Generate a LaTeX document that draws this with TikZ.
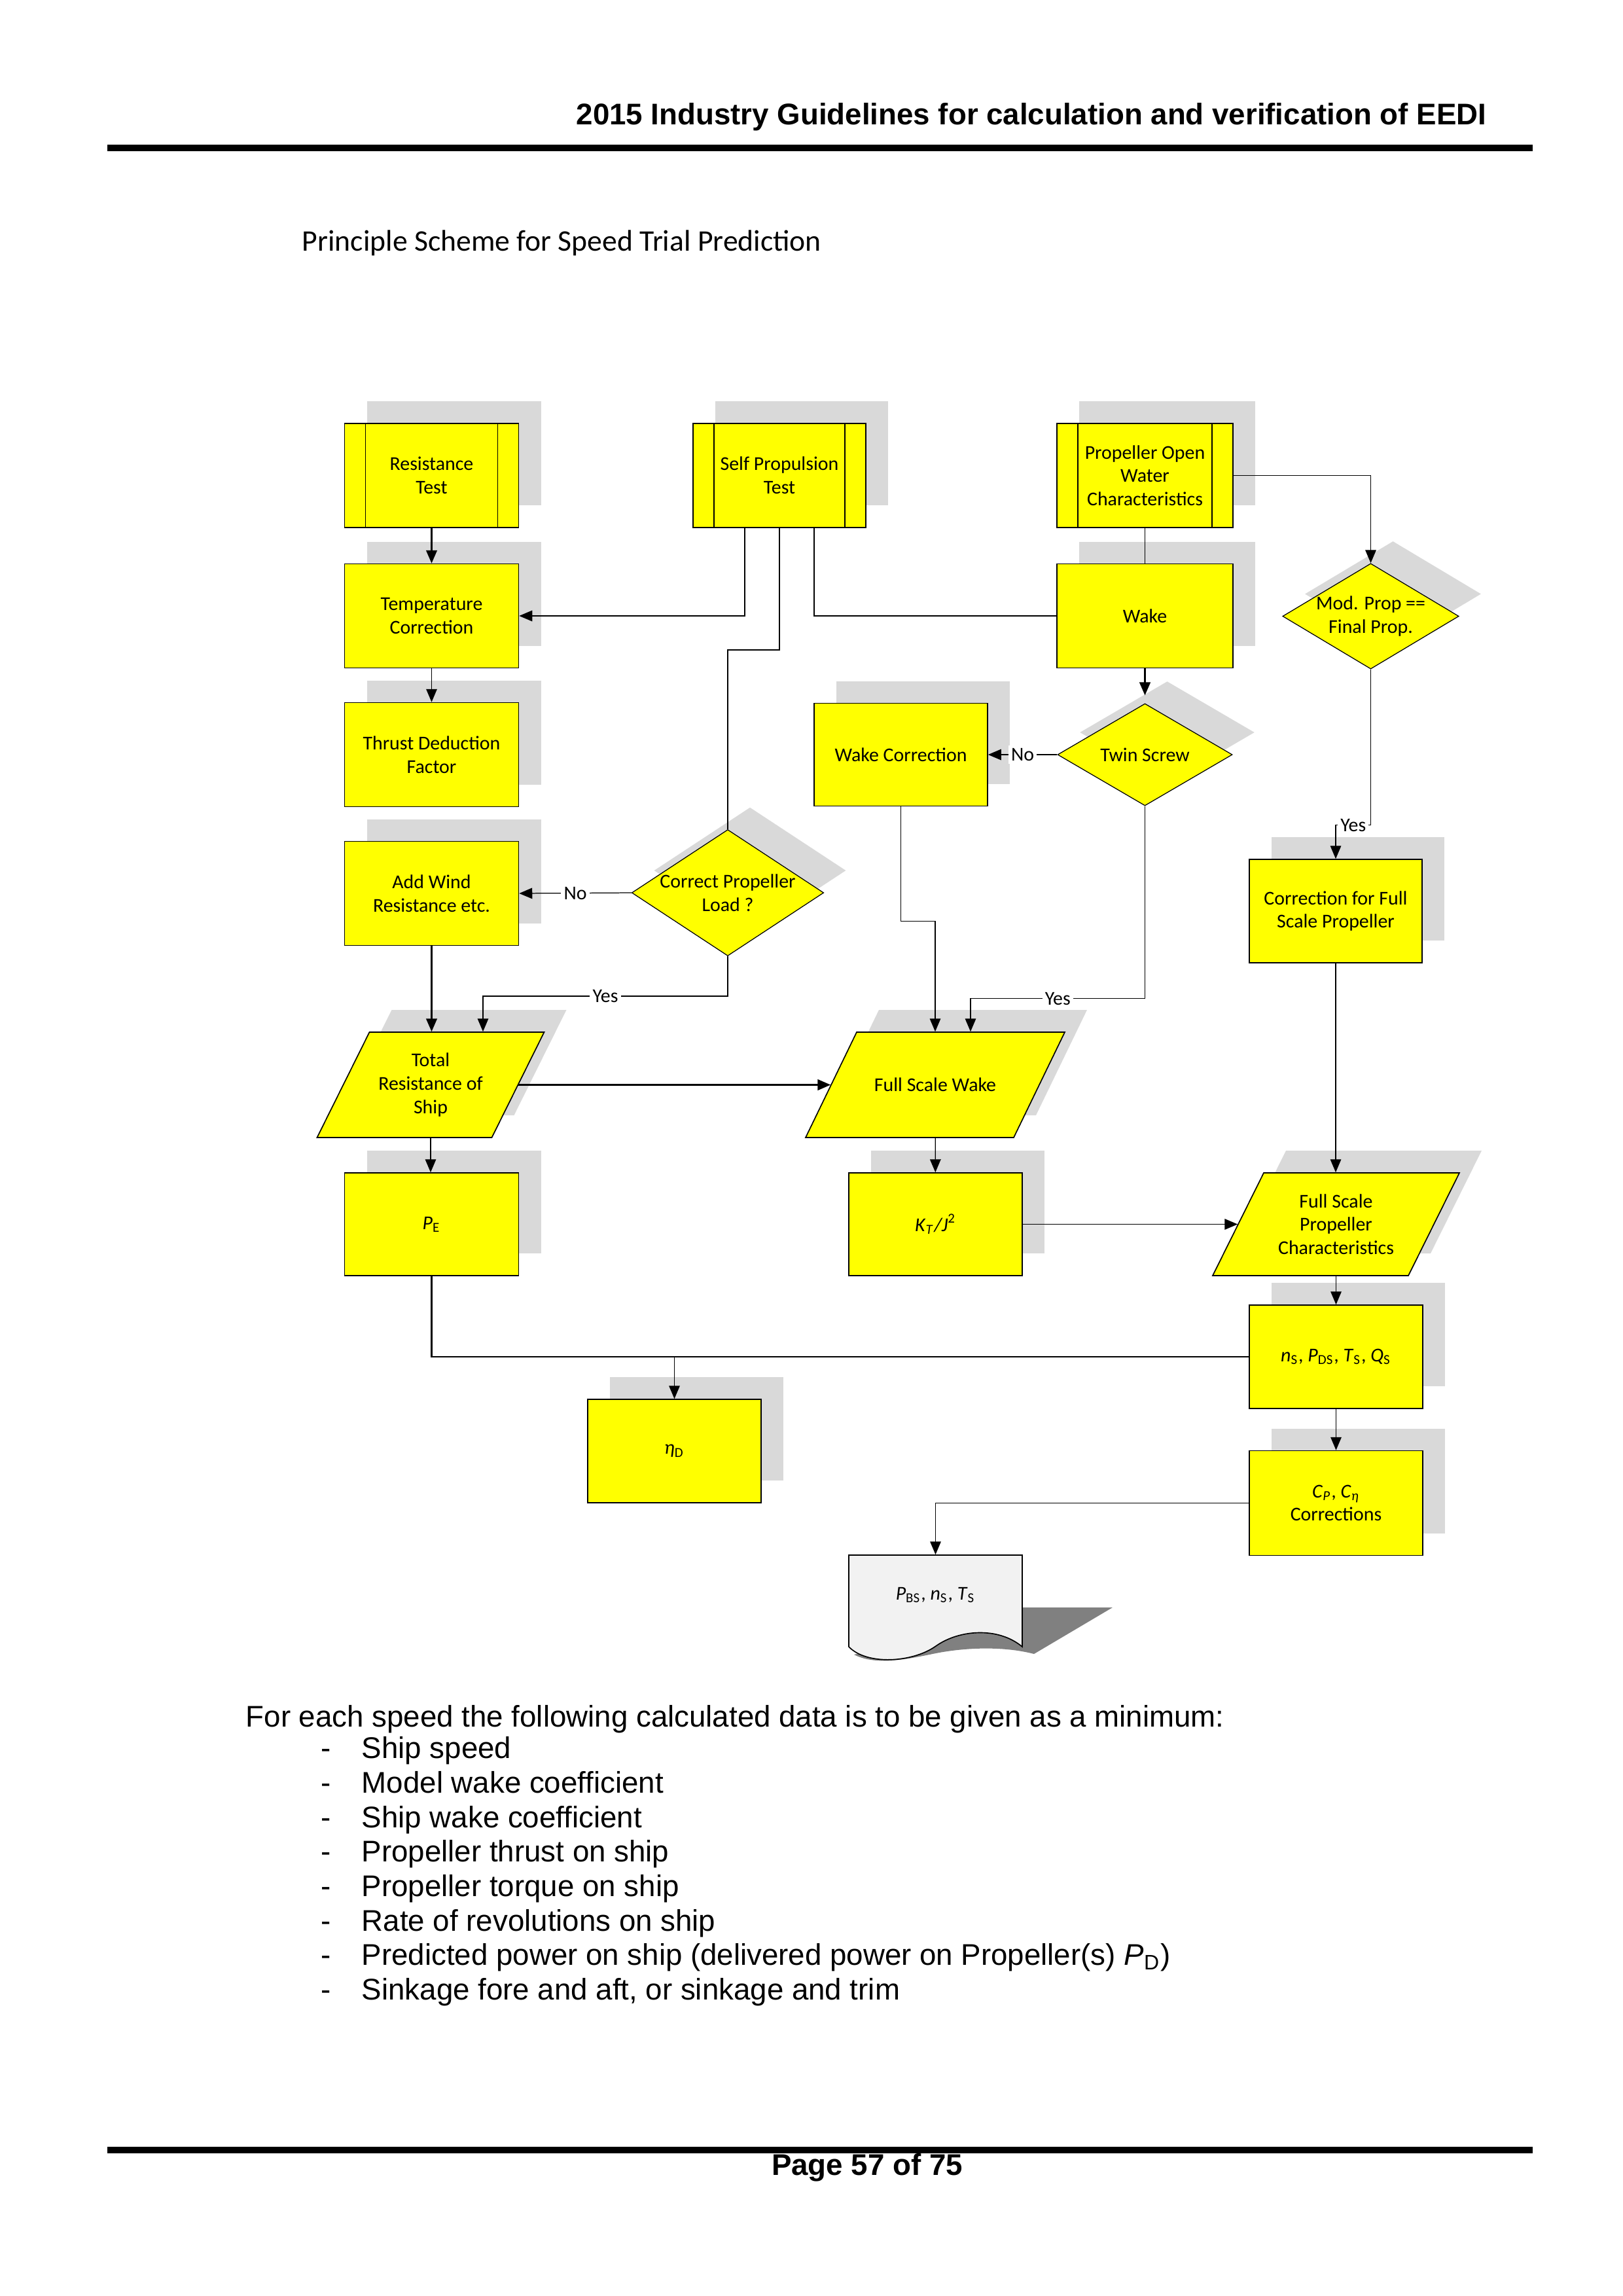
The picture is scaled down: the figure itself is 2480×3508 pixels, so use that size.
\documentclass[tikz,border=0pt]{standalone}
\usepackage{fontspec}
\setmainfont{Carlito}
\newfontfamily\arialfont{Liberation Sans}
\usepackage{tikz}
\usetikzlibrary{arrows.meta,shapes.geometric,shadows}
\definecolor{FlowYellow}{HTML}{FFFF00}
\definecolor{ShadeGrey}{HTML}{D9D9D9}
\definecolor{DocGrey}{HTML}{F2F2F2}
\definecolor{DocShade}{HTML}{808080}
\newlength\pix
\setlength\pix{0.084677mm}
\newcommand\flowfont{\fontsize{7.2}{8.6}\selectfont}
% parallelogram with its shadow: centre x, centre y, edge, height, slant
\newcommand\ioshape[5]{%
  \fill[ShadeGrey,xshift=34*\pix,yshift=34*\pix] ({#1-#3/2+#5/2},{#2-#4/2}) -- ++(#3,0) -- ++(-#5,#4) -- ++(-#3,0) -- cycle;
  \draw[line width=.4pt,fill=FlowYellow] ({#1-#3/2+#5/2},{#2-#4/2}) -- ++(#3,0) -- ++(-#5,#4) -- ++(-#3,0) -- cycle;}

\begin{document}
\begin{tikzpicture}[x=\pix,y=-\pix,
    greyshadow/.style={general shadow={shadow xshift=34*\pix,shadow yshift=34*\pix,fill=ShadeGrey}},
    flowbox/.style={draw,line width=.4pt,fill=FlowYellow,minimum width=266*\pix,minimum height=159*\pix,inner sep=1pt,align=center,font=\flowfont,greyshadow},
    predef/.style={flowbox,path picture={
      \draw[line width=.4pt] ([xshift=32*\pix]path picture bounding box.north west) -- ([xshift=32*\pix]path picture bounding box.south west)
        ([xshift=-32*\pix]path picture bounding box.north east) -- ([xshift=-32*\pix]path picture bounding box.south east);}},
    decision/.style={diamond,draw,line width=.3pt,fill=FlowYellow,inner sep=0pt,align=center,font=\flowfont,greyshadow},
    iobox/.style={inner sep=0pt,minimum height=161*\pix,align=center,font=\flowfont},
    lbl/.style={fill=white,inner sep=1pt,font=\flowfont},
    plain/.style={line width=.3pt},
    link/.style={line width=.3pt,-{Triangle[length=4.8pt,width=4pt]}},
    linkthick/.style={line width=.6pt,-{Triangle[length=4.8pt,width=4pt]}},
    listtext/.style={inner sep=0pt,font=\arialfont\fontsize{11}{12.65}\selectfont}]
  \useasboundingbox (0,0) rectangle (2480,3508);

  \node[anchor=base east,inner sep=0pt,font=\arialfont\bfseries\fontsize{11}{13}\selectfont] (header) at (2272,190) {2015 Industry Guidelines for calculation and verification of EEDI};
  \draw[line width=10*\pix] (164,225.7) -- (2342,225.7);
  \node[anchor=west,inner sep=0pt,font=\fontsize{11}{13}\selectfont] (title) at (461,371) {Principle Scheme for Speed Trial Prediction};

  \node[predef] (restest) at (659.5,726.5) {Resistance\\Test};
  \node[predef,minimum width=264*\pix] (sptest) at (1191,726.5) {Self Propulsion\\Test};
  \node[predef,minimum width=269*\pix] (powc) at (1749.5,726.5) {Propeller Open\\Water\\Characteristics};
  \node[flowbox] (tempcorr) at (659.5,941) {Temperature\\Correction};
  \node[flowbox,minimum width=269*\pix] (wake) at (1749.5,941) {Wake};
  \node[decision,minimum width=266*\pix,minimum height=159*\pix,aspect=1.67] (modprop) at (2094.5,941.5) {Mod. Prop ==\\Final Prop.};
  \node[flowbox] (thrust) at (659.5,1153) {Thrust Deduction\\Factor};
  \node[flowbox,minimum width=265*\pix,minimum height=157*\pix] (wakecorr) at (1376.5,1153) {Wake Correction};
  \node[decision,minimum width=267*\pix,minimum height=156*\pix,aspect=1.71] (twin) at (1749.5,1153) {Twin Screw};
  \node[flowbox] (addwind) at (659.5,1365) {Add Wind\\Resistance etc.};
  \node[decision,minimum width=287*\pix,minimum height=189*\pix,aspect=1.52] (corrload) at (1112,1364) {Correct Propeller\\Load ?};
  \node[flowbox,minimum width=264*\pix,minimum height=158*\pix] (corrfull) at (2041,1392) {Correction for Full\\Scale Propeller};
  \ioshape{658}{1657.5}{267}{161}{80}
  \node[iobox,minimum width=267*\pix] (totres) at (658,1657.5) {Total\\Resistance of\\Ship};
  \ioshape{1429}{1657.5}{318}{161}{78}
  \node[iobox,minimum width=318*\pix] (fswake) at (1429,1657.5) {Full Scale Wake};
  \node[flowbox,minimum height=157*\pix] (pe) at (659.5,1870.5) {\textit{P}\textsubscript{E}};
  \node[flowbox,minimum width=265*\pix,minimum height=157*\pix] (ktj) at (1429.5,1870.5) {\textit{K}\textsubscript{\textit{T}}\textit{/J}\textsuperscript{2}};
  \ioshape{2041.5}{1870.5}{299}{157}{78}
  \node[iobox,minimum width=299*\pix,minimum height=157*\pix] (fsprop) at (2041.5,1870.5) {Full Scale\\Propeller\\Characteristics};
  \node[flowbox,minimum width=265*\pix,minimum height=158*\pix] (nspds) at (2041.5,2073) {\textit{n}\textsubscript{S}, \textit{P}\textsubscript{DS}, \textit{T}\textsubscript{S}, \textit{Q}\textsubscript{S}};
  \node[flowbox,minimum width=265*\pix,minimum height=158*\pix] (etad) at (1030.5,2217) {\textit{η}\textsubscript{D}};
  \node[flowbox,minimum width=265*\pix,minimum height=160*\pix] (cpcorr) at (2041.5,2296.5) {\textit{C}\textsubscript{\textit{P}}, \textit{C}\textsubscript{\textit{η}}\\Corrections};

  \fill[DocShade] (1562,2456) -- (1700,2456) -- (1580,2527) .. controls (1530,2514) and (1470,2518) .. (1430,2526)
    .. controls (1390,2534) and (1340,2546) .. (1305,2528) -- cycle;
  \draw[line width=.4pt,fill=DocGrey] (1297,2376) -- (1562,2376) -- (1562,2516) .. controls (1525,2485) and (1465,2490) .. (1430,2515)
    .. controls (1395,2540) and (1325,2545) .. (1297,2516) -- cycle;
  \node[inner sep=0pt,minimum width=265*\pix,minimum height=122*\pix,font=\flowfont] (docout) at (1429.5,2437) {\textit{P}\textsubscript{BS}, \textit{n}\textsubscript{S}, \textit{T}\textsubscript{S}};

  \coordinate (spbend) at (1112,993);
  \draw[linkthick] (restest) -- (tempcorr);
  \draw[link] (tempcorr) -- (thrust);
  \draw[link] ([xshift=-53*\pix]sptest.south) |- (tempcorr.east);
  \draw[plain] (sptest.south) |- (spbend) -- (corrload.north);
  \draw[plain] ([xshift=53*\pix]sptest.south) |- (wake.west);
  \draw[plain] (powc) -- (wake);
  \draw[link] (powc.east) -| (modprop.north);
  \draw[linkthick,shorten >=12*\pix] (wake) -- (twin);
  \draw[link] (twin.west) -- node[lbl]{No} (wakecorr.east);
  \draw[link] (modprop.south) -- ++(0,238) -| node[lbl,pos=.25]{Yes} (corrfull.north);
  \draw[link] (corrload.west) -- node[lbl]{No} (addwind.east);
  \draw[link] (corrload.south) -- ++(0,61) -| node[lbl,pos=.25]{Yes} ([xshift=80*\pix]totres.north);
  \draw[linkthick] (addwind.south) -- (addwind.south |- totres.north);
  \draw[linkthick] (totres.east) -- (fswake.west);
  \draw[link] (wakecorr.south) -- ++(0,175) -| (fswake.north);
  \draw[link] (twin.south) -- ++(0,294) -| node[lbl,pos=.25]{Yes} ([xshift=54*\pix]fswake.north);
  \draw[link] (totres.south) -- (totres.south |- pe.north);
  \draw[link] (fswake) -- (ktj);
  \draw[link] (ktj.east) -- (fsprop.west);
  \draw[link] (corrfull) -- (corrfull |- fsprop.north);
  \draw[link] (fsprop) -- (nspds);
  \draw[link] (nspds) -- (cpcorr);
  \draw[line width=.5pt] (pe.south) |- (nspds.west);
  \draw[link] (etad.north |- nspds.west) -- (etad);
  \draw[link] (cpcorr.west) -| (docout.north);

  \node[listtext,anchor=base west] (intro) at (375,2638) {For each speed the following calculated data is to be given as a minimum:};
  \foreach \itm [count=\k] in {Ship speed,Model wake coefficient,Ship wake coefficient,Propeller thrust on ship,
      Propeller torque on ship,Rate of revolutions on ship,
      {Predicted power on ship (delivered power on Propeller(s) \textit{P}\textsubscript{D})},
      {Sinkage fore and aft, or sinkage and trim}}{
    \node[listtext,anchor=base] (dash\k) at (498,2634+52.7*\k) {-};
    \node[listtext,anchor=base west] (item\k) at (552,2634+52.7*\k) {\itm};
  }

  \draw[line width=10*\pix] (164,3285) -- (2342,3285);
  \node[anchor=base,inner sep=0pt,font=\arialfont\bfseries\fontsize{11}{13}\selectfont] (footer) at (1325,3323) {Page 57 of 75};
\end{tikzpicture}
\end{document}
